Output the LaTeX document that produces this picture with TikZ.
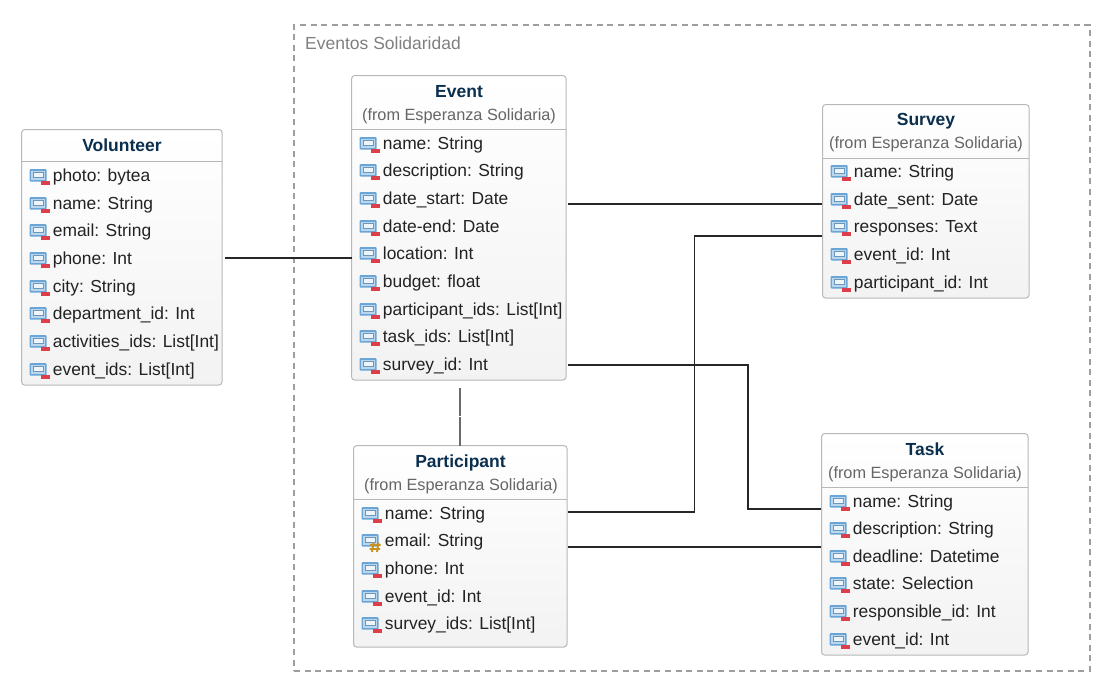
\documentclass[tikz,border=0pt]{standalone}
\usepackage{fontspec}
\setmainfont{Liberation Sans}
\definecolor{boxline}{HTML}{B8B8B8}
\definecolor{titlec}{HTML}{0B2F4E}
\definecolor{fromc}{HTML}{666666}
\definecolor{rowc}{HTML}{222222}
\definecolor{iconb}{HTML}{6BA5D6}
\definecolor{iconm}{HTML}{BAD6EC}
\definecolor{iconl}{HTML}{EDF4FA}
\definecolor{icond}{HTML}{6C97BD}
\definecolor{iconr}{HTML}{DC3F4A}
\definecolor{keyc}{HTML}{C8921E}
\tikzset{
  classbox/.style={draw=boxline,line width=1pt,rounded corners=3pt,top color=white,bottom color=black!5,inner sep=0pt,outer sep=0pt,anchor=north west},
  titletext/.style={font=\fontsize{17.5}{20}\selectfont\bfseries,text=titlec,inner sep=0pt,anchor=base},
  fromtext/.style={font=\fontsize{16.3}{20}\selectfont,text=fromc,inner sep=0pt,anchor=base},
  rowtext/.style={font=\fontsize{17.4}{20}\selectfont,text=rowc,inner sep=0pt,anchor=base west},
  conn/.style={draw=black!85,line width=1.5pt},
  vlink/.style={draw=black!58,line width=2pt},
  frame/.style={draw=black!38,line width=2pt,dash pattern=on 6pt off 4.6pt,inner sep=0pt,outer sep=0pt,anchor=north west},
  framelabel/.style={font=\fontsize{17.5}{20}\selectfont,text=black!50,inner sep=0pt,anchor=base west},
  pics/monitor/.style={code={
    \fill[iconb,rounded corners=1pt] (0,-6) rectangle (17,6.5);
    \fill[iconm] (1.5,-4.5) rectangle (15.5,5);
    \fill[iconl] (3.5,-3) rectangle (13.5,2.5);
    \draw[icond,line width=1pt] (3.5,-3) rectangle (13.5,2.5);
  }},
  pics/attricon/.style={code={
    \pic {monitor};
    \fill[iconr] (11.5,5.5) rectangle (20.5,9.5);
  }},
  pics/keyicon/.style={code={
    \pic {monitor};
    \draw[keyc,line width=1.9pt] (12,2.5) -- (10.5,12) (17,2.5) -- (15.5,12) (8.5,5) -- (19,5) (8,9) -- (18.5,9);
  }}
}
% #1 id, #2 x1, #3 y1, #4 x2, #5 y2, #6 header rule y, #7 title, #8 title baseline, #9 rows text/centre y
\newcommand{\umlclass}[9]{%
  \node[classbox,minimum width=#4pt-#2pt+0.4pt,minimum height=#5pt-#3pt+0.4pt] (#1) at ({#2-0.4},{#3-0.4}) {};
  \draw[draw=boxline,line width=1pt] ({#2-0.4},#6) coordinate (#1rule) -- (#4,#6);
  \node[titletext] (#1title) at ({(#2+#4)/2},#8) {#7};
  \foreach \txt/\yy [count=\ii] in {#9}{
    \pic at ({#2+7.5},\yy) {attricon};
    \node[rowtext] (#1row\ii) at ({#2+30.7},{\yy+6}) {\txt};
  }%
}
\begin{document}
\begin{tikzpicture}[x=1pt,y=-1pt]
\useasboundingbox (0,0) rectangle (1110,691);
\fill[white] (0,0) rectangle (1110,691);
\node[frame,minimum width=796pt,minimum height=646pt] (pkg) at (294,25) {};
\node[framelabel] (pkglabel) at (305,49) {Eventos Solidaridad};

\umlclass{vol}{22}{130}{222}{385}{161}{Volunteer}{151}{photo: bytea/175,name: String/203,email: String/230,phone: Int/258,city: String/286,department\_id: Int/313,activities\_ids: List[Int]/341,event\_ids: List[Int]/369}

\umlclass{evt}{352}{76}{566}{380}{129}{Event}{97}{name: String/143,description: String/170,date\_start: Date/198,date-end: Date/226,location: Int/253,budget: float/281,participant\_ids: List[Int]/309,task\_ids: List[Int]/336,survey\_id: Int/364}
\node[fromtext] (evtfrom) at (459,120) {(from Esperanza Solidaria)};

\umlclass{sur}{823}{105}{1029}{298}{158}{Survey}{125}{name: String/171,date\_sent: Date/199,responses: Text/226,event\_id: Int/254,participant\_id: Int/282}
\node[fromtext] (surfrom) at (926,148) {(from Esperanza Solidaria)};

\umlclass{par}{354}{446}{567}{647}{499}{Participant}{467}{name: String/513}
\node[fromtext] (parfrom) at (461,490) {(from Esperanza Solidaria)};
\pic at (361.5,540) {keyicon};
\node[rowtext] (parrow2) at (384.7,546) {email: String};
\pic at (361.5,568) {attricon};
\node[rowtext] (parrow3) at (384.7,574) {phone: Int};
\pic at (361.5,596) {attricon};
\node[rowtext] (parrow4) at (384.7,602) {event\_id: Int};
\pic at (361.5,623) {attricon};
\node[rowtext] (parrow5) at (384.7,629) {survey\_ids: List[Int]};

\umlclass{tsk}{822}{434}{1028}{655}{487}{Task}{455}{name: String/501,description: String/528,deadline: Datetime/556,state: Selection/583,responsible\_id: Int/611,event\_id: Int/639}
\node[fromtext] (tskfrom) at (925,478) {(from Esperanza Solidaria)};

% connectors
\coordinate (bendA) at (694.5,0);
\coordinate (bendB) at (748,0);
\coordinate (volout) at ([shift={(3,0.7)}]vol.east);
\coordinate (evtin)  at ([shift={(2,-23.8)}]evt.east);
\coordinate (surin)  at ([shift={(-1,2.7)}]sur.west);
\coordinate (surout) at ([shift={(-1,34.7)}]sur.west);
\coordinate (parout) at ([shift={(1,-34.3)}]par.east);
\coordinate (evtout) at ([shift={(2,137.2)}]evt.east);
\coordinate (tskin)  at ([shift={(-1,-35.3)}]tsk.west);
\coordinate (parlow) at ([shift={(1,0.7)}]par.east);
\draw[conn] (volout) -- (volout -| evt.west);
\draw[conn] (evtin) -- (evtin -| surin);
\draw[conn] (surout) -- (surout -| bendA) -- (parout -| bendA) -- (parout);
\draw[conn] (evtout) -- (evtout -| bendB) -- (tskin -| bendB) -- (tskin);
\draw[conn] (parlow) -- (parlow -| tskin);
\coordinate (vtop) at (460,388);
\coordinate (vmid) at (460,416);
\coordinate (vlow) at (460,417);
\draw[vlink] (vtop) -- (vmid);
\draw[vlink] (vlow) -- (vlow |- par.north);
\end{tikzpicture}
\end{document}
